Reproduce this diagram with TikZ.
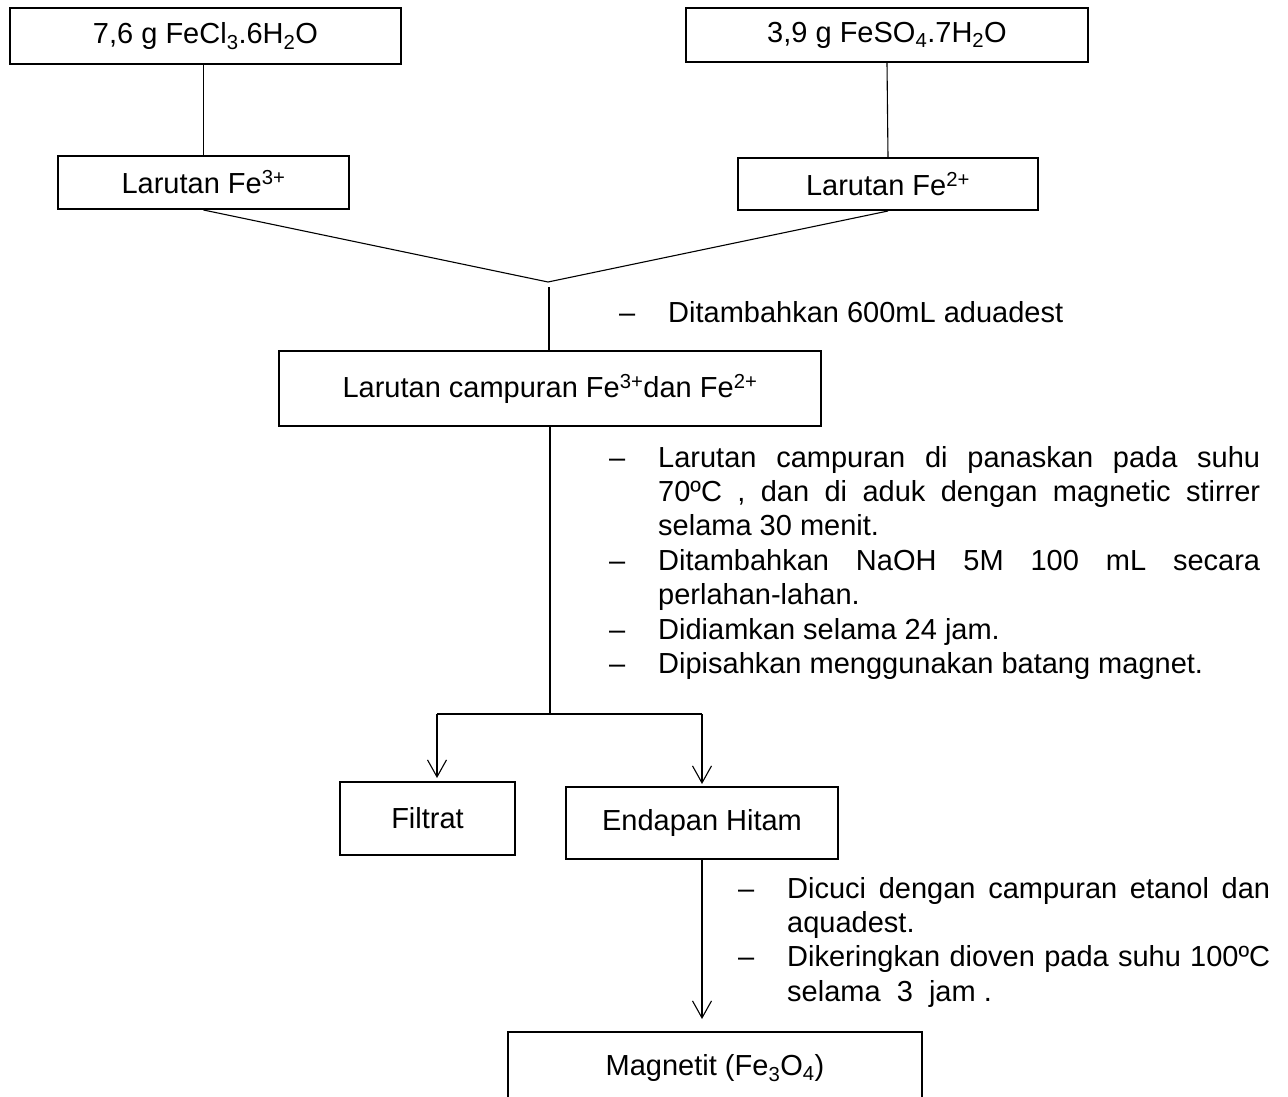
\documentclass[tikz,border=0pt]{standalone}
\usepackage{fontspec}
\setmainfont{Liberation Sans}
\usepackage{tikz}
\usetikzlibrary{arrows.meta, calc}
\tikzstyle{process} = [rectangle, draw=black, fill=white, line width=2pt, inner sep=0pt, text centered, font=\fontsize{29}{34.8}\selectfont]
\tikzstyle{link} = [line width=1.1pt]
\tikzstyle{arrow} = [line width=1.1pt, -{Straight Barb[length=17pt, width=19pt]}]
\tikzstyle{note} = [align=justify, inner sep=0pt, anchor=base west, font=\fontsize{29}{34.4}\selectfont]
\newcommand{\stepdash}{\hangindent=49pt\hangafter=1\noindent\makebox[49pt][l]{\textendash}}

\begin{document}
\begin{tikzpicture}[x=1pt, y=-1pt]
\path [use as bounding box, fill=white] (0,0) rectangle (1288,1097);

\node (fecl) [process, minimum width=391pt, minimum height=56pt] at (205.5,36) {7,6 g FeCl\textsubscript{3}.6H\textsubscript{2}O};
\node (feso) [process, minimum width=402pt, minimum height=54pt] at (887,35) {3,9 g FeSO\textsubscript{4}.7H\textsubscript{2}O};
\node (fe3) [process, minimum width=291pt, minimum height=53pt] at (203.5,182.5) {Larutan Fe\textsuperscript{3+}};
\node (fe2) [process, minimum width=300pt, minimum height=52pt] at (888,184) {Larutan Fe\textsuperscript{2+}};
\coordinate (meet) at (548,282);
\coordinate (meetgap) at (549,287);
\node (mix) [process, minimum width=542pt, minimum height=75pt] at (550,388.5) {Larutan campuran Fe\textsuperscript{3+}dan Fe\textsuperscript{2+}};
\node (addwater) [note] at (619,322) {\makebox[49pt][l]{\textendash}Ditambahkan 600mL aduadest};
\coordinate (split) at (550,714);
\coordinate (splitL) at (437,714);
\coordinate (splitR) at (702,714);
\node (steps) [note, text width=651pt] at (609,467) {\stepdash Larutan campuran di panaskan pada suhu\linebreak 70ºC , dan di aduk dengan magnetic stirrer\linebreak selama 30 menit.\par
\stepdash Ditambahkan NaOH 5M 100 mL secara\linebreak perlahan-lahan.\par
\stepdash Didiamkan selama 24 jam.\par
\stepdash Dipisahkan menggunakan batang magnet.\par};
\node (filtrat) [process, minimum width=175pt, minimum height=73pt] at (427.5,818.5) {Filtrat};
\node (endapan) [process, minimum width=272pt, minimum height=72pt] at (702,823) {Endapan Hitam};
\node (wash) [note, text width=532pt] at (738,898) {\stepdash Dicuci dengan campuran etanol dan\linebreak aquadest.\par
\stepdash Dikeringkan dioven pada suhu 100ºC\linebreak selama\ \ 3\ \ jam .\par};
\node (magnetit) [process, minimum width=414pt, minimum height=72pt] at (715,1068) {Magnetit (Fe\textsubscript{3}O\textsubscript{4})};

\draw [link] (fecl.south -| fe3.north) -- (fe3.north);
\draw [link] (feso.south) -- (fe2.north);
\draw [link] (fe3.south) -- (meet) -- (fe2.south);
\draw [link] (meetgap) -- (meetgap |- mix.north);
\draw [link] (mix.south) -- (split);
\draw [link] (splitL) -- (splitR);
\draw [arrow, shorten >=3pt] (splitL) -- (splitL |- filtrat.north);
\draw [arrow, shorten >=2pt] (splitR) -- (endapan.north);
\draw [arrow, shorten >=12pt] (endapan.south) -- (endapan.south |- magnetit.north);

\end{tikzpicture}
\end{document}
